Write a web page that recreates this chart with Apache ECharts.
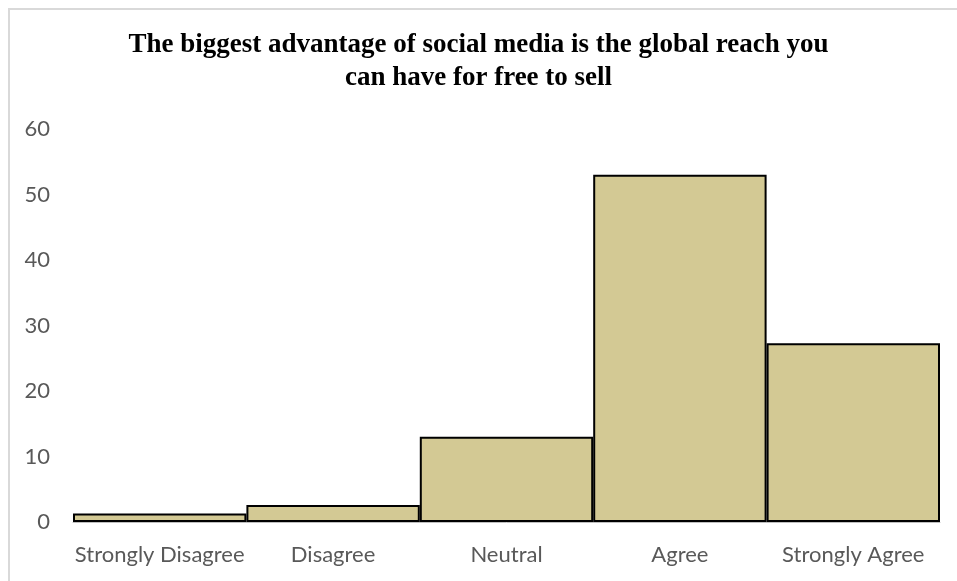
<!DOCTYPE html>
<html>
<head>
<meta charset="utf-8">
<script src="https://cdn.jsdelivr.net/npm/echarts@6/dist/echarts.min.js"></script>
<style>
  html, body { margin: 0; padding: 0; background: #ffffff; }
  #chart { width: 957px; height: 581px; }
</style>
</head>
<body>
<div id="chart"></div>
<script>
// Survey responses (percent of respondents)
const categories = ['Strongly Disagree', 'Disagree', 'Neutral', 'Agree', 'Strongly Agree'];
const responses = [1.3, 2.6, 13.0, 53.0, 27.3];
const yTicks = { min: 0, max: 60, interval: 10 };
const titleText = 'The biggest advantage of social media is the global reach you\ncan have for free to sell';

const chart = echarts.init(document.getElementById('chart'), null, { renderer: 'canvas' });

chart.setOption({
  animation: false,
  backgroundColor: '#ffffff',
  graphic: [{
    type: 'rect',
    shape: { x: 9, y: 9, width: 960, height: 600 },
    style: { fill: 'none', stroke: '#d9d9d9', lineWidth: 2 },
    silent: true
  }],
  title: {
    text: titleText,
    left: 'center',
    top: 24,
    textStyle: {
      fontFamily: '"Liberation Serif", "Times New Roman", serif',
      fontWeight: 'bold',
      fontSize: 27,
      lineHeight: 33,
      color: '#000000'
    }
  },
  grid: { left: 73, right: 17, top: 129, bottom: 59, containLabel: false },
  xAxis: {
    type: 'category',
    data: categories,
    axisLine: { show: true, lineStyle: { color: '#bfbfbf', width: 1 } },
    axisTick: { show: false },
    axisLabel: {
      interval: 0,
      margin: 22,
      fontFamily: 'Lato, "Open Sans", sans-serif',
      fontSize: 22,
      color: '#595959'
    }
  },
  yAxis: {
    type: 'value',
    min: yTicks.min,
    max: yTicks.max,
    interval: yTicks.interval,
    splitLine: { show: false },
    axisLine: { show: false },
    axisTick: { show: false },
    axisLabel: {
      margin: 23,
      fontFamily: 'Lato, "Open Sans", sans-serif',
      fontSize: 22,
      color: '#595959'
    }
  },
  series: [{
    type: 'bar',
    data: responses,
    barCategoryGap: '0%',
    itemStyle: {
      color: '#d3c994',
      borderColor: '#000000',
      borderWidth: 2
    }
  }]
});
</script>
</body>
</html>
